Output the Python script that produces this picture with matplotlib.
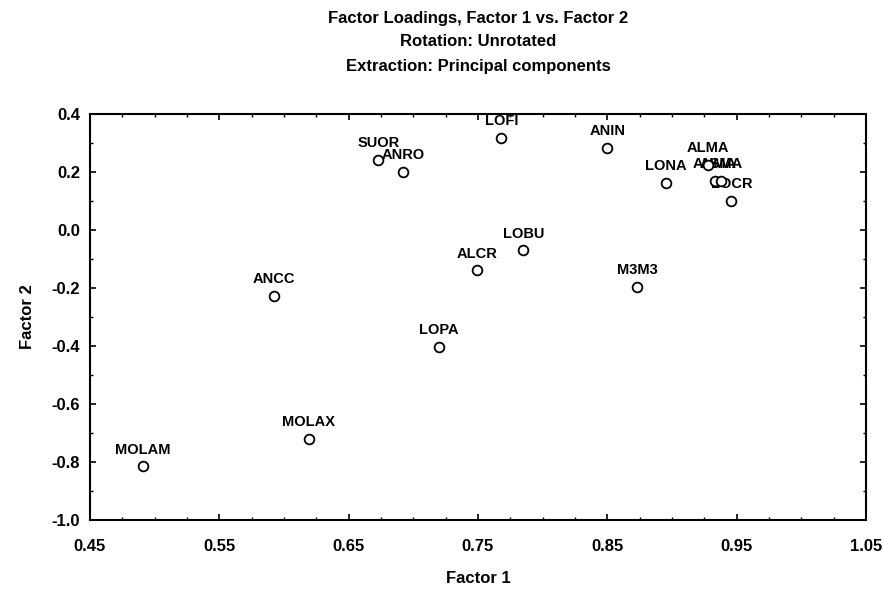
import matplotlib.pyplot as plt
from matplotlib.ticker import MultipleLocator, FixedLocator, FormatStrFormatter
import numpy as np

# factor loadings
labels = ["MOLAM", "MOLAX", "ANCC", "LOPA", "ALCR", "LOBU", "SUOR", "ANRO",
          "LOFI", "ANIN", "M3M3", "LONA", "ALMA", "ANMA", "ASMA", "LOCR"]
factor1 = [0.491, 0.619, 0.592, 0.720, 0.749, 0.785, 0.673, 0.692,
           0.768, 0.850, 0.873, 0.895, 0.928, 0.933, 0.938, 0.946]
factor2 = [-0.815, -0.720, -0.226, -0.403, -0.139, -0.070, 0.242, 0.201,
           0.318, 0.283, -0.197, 0.163, 0.225, 0.170, 0.170, 0.100]
xticks = [0.45, 0.55, 0.65, 0.75, 0.85, 0.95, 1.05]

plt.rcParams['font.family'] = ['Liberation Sans', 'DejaVu Sans']
plt.rcParams['font.weight'] = 'bold'

W, H = 883, 594
fig = plt.figure(figsize=(W/100, H/100), dpi=100)
ax = fig.add_axes([90/W, 1-520/H, (866-90)/W, (520-114)/H])

ax.plot(factor1, factor2, 'o', ms=7, mfc='white', mec='black', mew=1.3, zorder=3)
for lab, x, y in zip(labels, factor1, factor2):
    ax.annotate(lab, (x, y), xytext=(0, 7), textcoords='offset points',
                ha='center', va='bottom', fontsize=10.5, fontweight='bold', zorder=2)

ax.set_xlim(0.45, 1.05)
ax.set_ylim(-1.0, 0.4)
ax.xaxis.set_major_locator(FixedLocator(xticks))
ax.xaxis.set_minor_locator(MultipleLocator(0.025))
ax.yaxis.set_major_locator(MultipleLocator(0.2))
ax.yaxis.set_minor_locator(MultipleLocator(0.1))
ax.xaxis.set_major_formatter(FormatStrFormatter('%.2f'))
ax.yaxis.set_major_formatter(FormatStrFormatter('%.1f'))
ax.tick_params(which='both', direction='in', top=True, right=True, labelsize=12)
ax.tick_params(which='major', length=4, width=1.2)
ax.tick_params(which='minor', length=2.5, width=1)
ax.tick_params(axis='x', which='major', pad=14)
ax.tick_params(axis='y', which='major', pad=7)
for lbl in ax.get_xticklabels() + ax.get_yticklabels():
    lbl.set_fontweight('bold')
for s in ax.spines.values():
    s.set_linewidth(1.5)

ax.set_xlabel("Factor 1", fontsize=12, fontweight='bold', labelpad=12)
ax.set_ylabel("Factor 2", fontsize=12, fontweight='bold', labelpad=12)

cx = (90 + 866) / 2 / W
fig.text(cx, 1-18/H, "Factor Loadings, Factor 1 vs. Factor 2", ha='center', va='center', fontsize=12, fontweight='bold')
fig.text(cx, 1-42/H, "Rotation: Unrotated", ha='center', va='center', fontsize=12, fontweight='bold')
fig.text(cx, 1-66/H, "Extraction: Principal components", ha='center', va='center', fontsize=12, fontweight='bold')

fig.savefig("out.png", dpi=100)
